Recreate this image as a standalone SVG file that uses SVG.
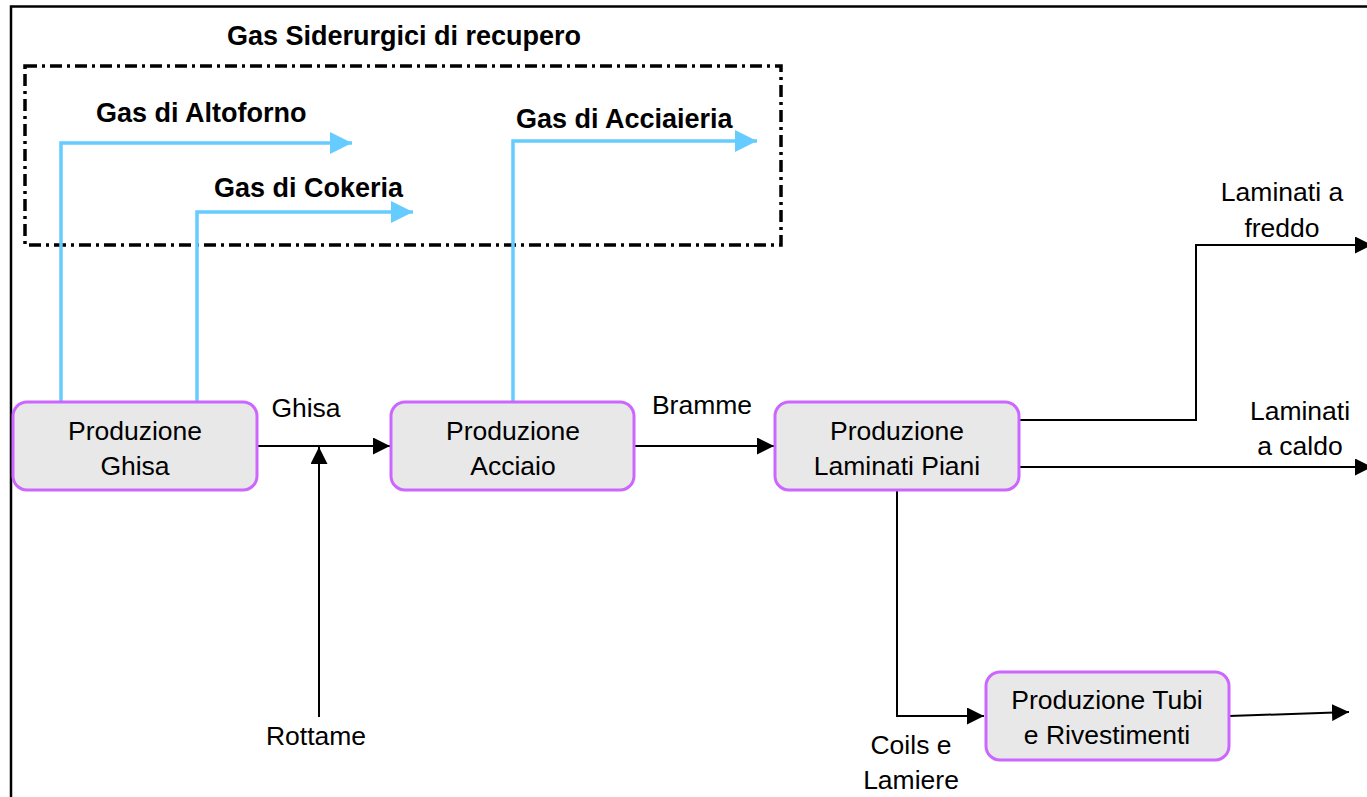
<svg xmlns="http://www.w3.org/2000/svg" width="1367" height="797" viewBox="0 0 1367 797">
<style>
.t{font-family:"Liberation Sans",Arial,sans-serif;font-size:26.5px;fill:#000;text-anchor:middle}
.b{font-family:"Liberation Sans",Arial,sans-serif;font-size:27px;font-weight:bold;fill:#000}
.node{fill:#E8E8E8;stroke:#CC66FF;stroke-width:3}
.k{fill:none;stroke:#000;stroke-width:2}
.g{fill:none;stroke:#66CCFF;stroke-width:3.5}
</style>
<defs>
<marker id="ak" markerUnits="userSpaceOnUse" viewBox="0 0 10 10" markerWidth="17" markerHeight="17" refX="10" refY="5" orient="auto"><path d="M0,0 L10,5 L0,10 z" fill="#000"/></marker>
<marker id="ab" markerUnits="userSpaceOnUse" viewBox="0 0 10 10" markerWidth="22" markerHeight="24" refX="10" refY="5" orient="auto"><path d="M0,0 L10,5 L0,10 z" fill="#66CCFF"/></marker>
</defs>
<rect width="1367" height="797" fill="#fff"/>
<path d="M11,797 V6.5 H1367" fill="none" stroke="#000" stroke-width="2.5"/>
<g id="gas-group">
<rect x="25" y="66" width="756" height="179" fill="none" stroke="#000" stroke-width="3.5" stroke-dasharray="12 5 3 5"/>
<text class="b" x="404" y="45" text-anchor="middle">Gas Siderurgici di recupero</text>
</g>
<g id="connectors">
<path class="g" d="M61,402 V143 H352" marker-end="url(#ab)"/>
<path class="g" d="M197,402 V212 H413" marker-end="url(#ab)"/>
<path class="g" d="M513,402 V141 H757" marker-end="url(#ab)"/>
<path class="k" d="M257,446 H390" marker-end="url(#ak)"/>
<path class="k" d="M319,717 V447" marker-end="url(#ak)"/>
<path class="k" d="M634,446 H774" marker-end="url(#ak)"/>
<path class="k" d="M1019,420 H1196 V245 H1372" marker-end="url(#ak)"/>
<path class="k" d="M1019,467 H1372" marker-end="url(#ak)"/>
<path class="k" d="M897,490 V716 H984" marker-end="url(#ak)"/>
<path class="k" d="M1229,716 L1349,712" marker-end="url(#ak)"/>
</g>
<g id="labels">
<text class="b" x="96" y="122">Gas di Altoforno</text>
<text class="b" x="214" y="197">Gas di Cokeria</text>
<text class="b" x="516" y="128">Gas di Acciaieria</text>
<text class="t" x="306" y="417">Ghisa</text>
<text class="t" x="702" y="414">Bramme</text>
<text class="t" x="316" y="745">Rottame</text>
<text class="t" x="1282" y="201">Laminati a</text>
<text class="t" x="1282" y="237">freddo</text>
<text class="t" x="1300" y="420">Laminati</text>
<text class="t" x="1300" y="455">a caldo</text>
<text class="t" x="911" y="754">Coils e</text>
<text class="t" x="911" y="789">Lamiere</text>
</g>
<g id="node-ghisa">
<rect class="node" x="13" y="402" width="244" height="88" rx="14"/>
<text class="t" x="135" y="440">Produzione</text>
<text class="t" x="135" y="475">Ghisa</text>
</g>
<g id="node-acciaio">
<rect class="node" x="391" y="402" width="243" height="88" rx="14"/>
<text class="t" x="513" y="440">Produzione</text>
<text class="t" x="513" y="475">Acciaio</text>
</g>
<g id="node-laminati">
<rect class="node" x="775" y="402" width="244" height="88" rx="14"/>
<text class="t" x="897" y="440">Produzione</text>
<text class="t" x="897" y="475">Laminati Piani</text>
</g>
<g id="node-tubi">
<rect class="node" x="986" y="672" width="243" height="88" rx="14"/>
<text class="t" x="1107" y="709">Produzione Tubi</text>
<text class="t" x="1107" y="744">e Rivestimenti</text>
</g>
</svg>
